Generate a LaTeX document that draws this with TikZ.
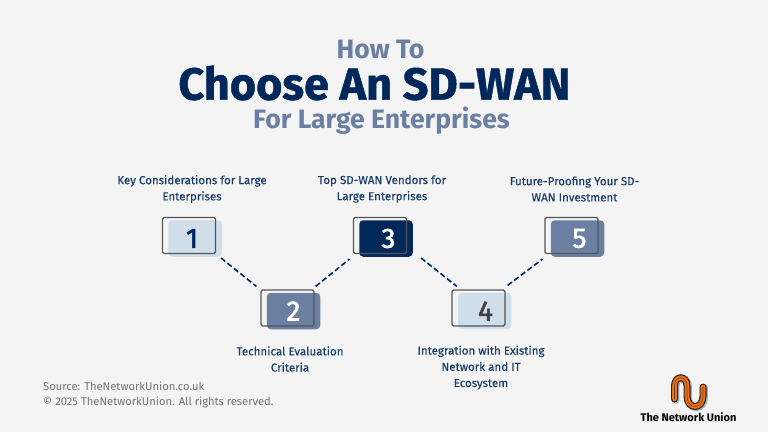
\documentclass[tikz,border=0pt]{standalone}
\usepackage{fontspec}
\setmainfont{Fira Sans}
\usetikzlibrary{positioning}

\definecolor{pagegray}{HTML}{F4F4F4}
\definecolor{navy}{HTML}{00285A}
\definecolor{slate}{HTML}{6B7FA3}
\definecolor{pale}{HTML}{D0DEEA}
\definecolor{edgegray}{HTML}{555555}

\begin{document}
\begin{tikzpicture}[x=1pt,y=-1pt,on grid,
	numbox/.style={rounded corners=4pt,minimum width=53.5pt,minimum height=36.5pt,inner sep=0pt,font=\fontsize{28}{28}\selectfont\addfontfeature{FakeBold=2}},
	framebox/.style={draw=edgegray,line width=1.2pt,rounded corners=1.5pt,minimum width=53pt,minimum height=36pt,inner sep=0pt},
	steptext/.style={text=navy!90!white,align=center,font=\fontsize{11.55}{16.2}\selectfont\addfontfeature{FakeBold=0.25}},
	sourcetext/.style={anchor=west,text=black!55,font=\fontsize{11.2}{16}\selectfont},
	headtext/.style={text=slate,inner sep=0pt,font=\fontsize{26.6}{26}\selectfont\bfseries},
	link/.style={navy,line width=1.6pt,dash pattern=on 5.5pt off 2.8pt},
	logoline/.style={line cap=round,line join=round}]
	\fill[pagegray] (0,0) rectangle (768,432);
	\useasboundingbox (0,0) rectangle (768,432);

	% heading
	\node[headtext] (how) at (380.5,50) {How To};
	\node[text=navy,inner sep=0pt,font=\fontsize{45}{45}\selectfont\bfseries\addfontfeature{FakeBold=1}] (choose) at (374.5,83) {Choose An SD-WAN};
	\node[headtext] (large) at (381.5,120.5) {For Large Enterprises};

	% steps
	\node[numbox,fill=pale,text=navy] (f1) at (195,238.5) {\hspace{-6pt}1};
	\node[numbox,fill=slate,text=white] (f2) [below right=72.5pt and 98.5pt of f1] {2};
	\node[numbox,fill=navy,text=white] (f3) [above right=72.5pt and 92.5pt of f2] {\hspace{5pt}3};
	\node[numbox,fill=pale,text=black!75] (f4) [below right=72.5pt and 98.5pt of f3] {\hspace{2pt}4};
	\node[numbox,fill=slate,text=white] (f5) [above right=72.5pt and 93pt of f4] {\hspace{4pt}5};

	\node[framebox] (o1) [above left=3pt and 6pt of f1] {};
	\node[framebox] (o2) [above left=3pt and 6pt of f2] {};
	\node[framebox] (o3) [above left=3pt and 6pt of f3] {};
	\node[framebox] (o4) [above left=3pt and 6pt of f4] {};
	\node[framebox] (o5) [above left=3pt and 6pt of f5] {};

	\node[steptext] (t1) at (192,189) {Key Considerations for Large\\Enterprises};
	\node[steptext] (t2) at (290,359) {Technical Evaluation\\Criteria};
	\node[steptext] (t3) at (382,189) {Top SD-WAN Vendors for\\Large Enterprises};
	\node[steptext] (t4) at (481,367.5) {Integration with Existing\\Network and IT\\Ecosystem};
	\node[steptext] (t5) at (574.5,189) {Future-Proofing Your SD-\\WAN Investment};

	\draw[link] ([shift={(-1pt,-1pt)}]f1.south east) -- ([shift={(-4pt,3pt)}]o2.north west);
	\draw[link] ([shift={(1pt,3pt)}]o2.north east) -- ([shift={(-3.5pt,-5pt)}]o3.south west);
	\draw[link] ([shift={(8pt,-1pt)}]f3.south east) -- ([shift={(5.5pt,3pt)}]o4.north west);
	\draw[link] ([shift={(2pt,4pt)}]o4.north east) -- ([shift={(-2pt,-5pt)}]o5.south west);

	% source
	\node[sourcetext] (src) at (39.7,386) {Source: TheNetworkUnion.co.uk};
	\node[sourcetext] (rights) at (39.7,402) {© 2025 TheNetworkUnion. All rights reserved.};

	% logo
	\foreach \c/\w/\dx/\dy in {black!45!teal!40!white/7.5/1.2/0.8,black!85/7/0/0,orange!85!red/4.6/0/0,black!70/0.6/0/0}
		\draw[logoline,draw=\c,line width=\w pt,shift={(\dx pt,-\dy pt)}] (674.5,399) -- (674.5,386) .. controls (674.5,375) and (687,375) .. (687,386) -- (687,396) .. controls (687,410) and (703,410) .. (703,396) -- (703,387);
	\node[text=black,font=\fontsize{11}{12}\selectfont\bfseries] (brand) at (688.5,417) {The Network Union};
\end{tikzpicture}
\end{document}
